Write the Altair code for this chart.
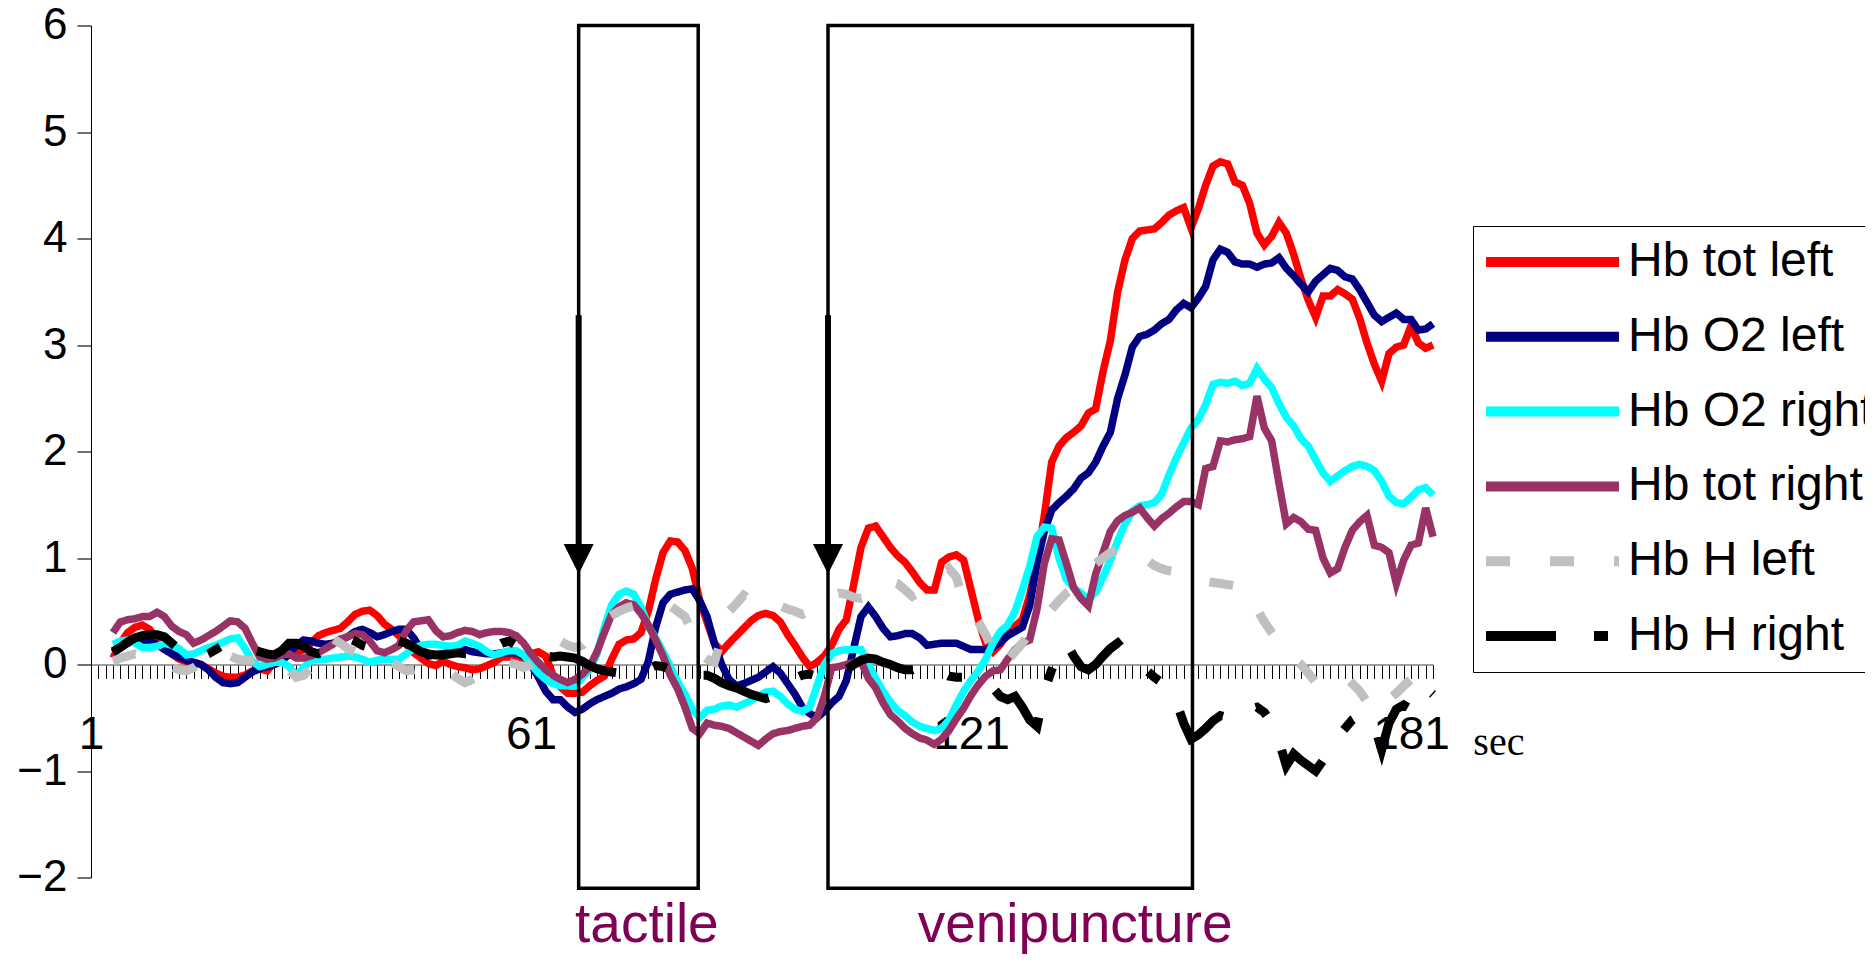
import altair as alt
import pandas as pd

# ---------------- data ----------------
seconds = list(range(4, 185))

series_names = ["Hb tot left", "Hb O2 left", "Hb O2 right", "Hb tot right", "Hb H left", "Hb H right"]
series_colors = ["#FF0000", "#000080", "#00FFFF", "#993366", "#C0C0C0", "#000000"]
series_dashes = [[1, 0], [1, 0], [1, 0], [1, 0], [24, 40], [70, 38, 14, 38]]

hb_tot_left = [
    0.06, 0.20, 0.30, 0.35, 0.37, 0.33, 0.24, 0.17, 0.10, 0.05,
    0.03, 0.02, 0.00, -0.04, -0.08, -0.11, -0.12, -0.12, -0.10, -0.06,
    -0.04, -0.06, 0.02, 0.06, 0.09, 0.11, 0.14, 0.20, 0.27, 0.30,
    0.32, 0.34, 0.40, 0.47, 0.50, 0.51, 0.46, 0.38, 0.33, 0.27,
    0.19, 0.11, 0.06, 0.01, -0.01, 0.03, 0.00, -0.02, -0.03, -0.05,
    -0.04, -0.01, 0.02, 0.07, 0.07, 0.06, 0.06, 0.10, 0.12, 0.08,
    -0.10, -0.21, -0.27, -0.27, -0.26, -0.20, -0.15, -0.11, 0.05, 0.19,
    0.23, 0.24, 0.30, 0.50, 0.80, 1.05, 1.16, 1.15, 1.07, 0.90,
    0.60, 0.40, 0.20, 0.12, 0.20, 0.27, 0.34, 0.41, 0.46, 0.48,
    0.46, 0.40, 0.28, 0.18, 0.07, -0.02, 0.02, 0.08, 0.18, 0.33,
    0.42, 0.75, 1.10, 1.28, 1.30, 1.20, 1.10, 1.02, 0.96, 0.87,
    0.77, 0.70, 0.70, 0.96, 1.01, 1.03, 0.98, 0.70, 0.42, 0.20,
    0.12, 0.19, 0.29, 0.36, 0.42, 0.65, 0.98, 1.40, 1.90, 2.05,
    2.13, 2.18, 2.24, 2.36, 2.40, 2.75, 3.04, 3.50, 3.80, 4.00,
    4.07, 4.08, 4.09, 4.15, 4.22, 4.26, 4.29, 4.10, 4.28, 4.50,
    4.68, 4.72, 4.70, 4.53, 4.50, 4.33, 4.05, 3.94, 4.02, 4.15,
    4.05, 3.85, 3.62, 3.42, 3.26, 3.46, 3.46, 3.52, 3.48, 3.43,
    3.25, 3.02, 2.82, 2.66, 2.92, 2.98, 3.00, 3.18, 3.02, 2.97,
    3.00,
]

hb_o2_left = [
    0.11, 0.16, 0.20, 0.22, 0.23, 0.22, 0.19, 0.14, 0.10, 0.07,
    0.04, 0.02, 0.00, -0.05, -0.12, -0.17, -0.18, -0.17, -0.12, -0.07,
    -0.04, -0.02, 0.00, 0.03, 0.10, 0.18, 0.23, 0.22, 0.20, 0.19,
    0.20, 0.23, 0.26, 0.31, 0.33, 0.30, 0.26, 0.28, 0.31, 0.33,
    0.33, 0.25, 0.14, 0.08, 0.09, 0.10, 0.12, 0.15, 0.14, 0.12,
    0.11, 0.10, 0.10, 0.11, 0.11, 0.11, 0.08, 0.00, -0.12, -0.25,
    -0.33, -0.33, -0.40, -0.45, -0.42, -0.37, -0.33, -0.30, -0.27, -0.23,
    -0.21, -0.18, -0.14, 0.03, 0.35, 0.58, 0.66, 0.68, 0.70, 0.71,
    0.60, 0.45, 0.20, 0.00, -0.14, -0.20, -0.18, -0.15, -0.12, -0.07,
    -0.02, -0.08, -0.18, -0.28, -0.40, -0.46, -0.50, -0.44, -0.36, -0.30,
    -0.15, 0.15, 0.45, 0.54, 0.45, 0.34, 0.26, 0.27, 0.29, 0.29,
    0.25, 0.18, 0.19, 0.20, 0.20, 0.20, 0.17, 0.14, 0.14, 0.14,
    0.16, 0.21, 0.27, 0.31, 0.35, 0.55, 0.95, 1.25, 1.45, 1.52,
    1.58, 1.65, 1.75, 1.80, 1.90, 2.05, 2.18, 2.50, 2.72, 2.98,
    3.08, 3.10, 3.14, 3.20, 3.24, 3.33, 3.39, 3.35, 3.44, 3.55,
    3.80, 3.90, 3.87, 3.78, 3.76, 3.76, 3.73, 3.76, 3.77, 3.82,
    3.72, 3.65, 3.57, 3.50, 3.60, 3.66, 3.72, 3.70, 3.64, 3.62,
    3.52, 3.40, 3.28, 3.22, 3.26, 3.30, 3.24, 3.24, 3.14, 3.15,
    3.20,
]

hb_o2_right = [
    0.19, 0.22, 0.23, 0.20, 0.16, 0.16, 0.17, 0.20, 0.18, 0.15,
    0.09, 0.10, 0.13, 0.16, 0.18, 0.21, 0.24, 0.25, 0.15, 0.03,
    -0.02, 0.00, 0.02, 0.02, -0.02, -0.10, -0.03, 0.04, 0.05, 0.05,
    0.06, 0.07, 0.08, 0.07, 0.05, 0.02, 0.04, 0.05, 0.05, 0.05,
    0.10, 0.15, 0.18, 0.19, 0.19, 0.18, 0.17, 0.18, 0.22, 0.20,
    0.17, 0.12, 0.09, 0.11, 0.13, 0.13, 0.09, 0.00, -0.08, -0.14,
    -0.18, -0.20, -0.20, -0.20, -0.12, -0.05, 0.10, 0.35, 0.56, 0.66,
    0.69, 0.66, 0.54, 0.36, 0.25, 0.12, -0.02, -0.16, -0.28, -0.42,
    -0.50, -0.43, -0.42, -0.39, -0.38, -0.40, -0.37, -0.34, -0.30, -0.26,
    -0.25, -0.30, -0.37, -0.42, -0.44, -0.40, -0.20, 0.00, 0.10, 0.13,
    0.14, 0.14, 0.14, 0.00, -0.13, -0.25, -0.35, -0.43, -0.48, -0.54,
    -0.58, -0.60, -0.62, -0.60, -0.52, -0.38, -0.25, -0.15, -0.06, 0.05,
    0.20, 0.31, 0.37, 0.50, 0.70, 0.92, 1.20, 1.29, 1.28, 1.00,
    0.80, 0.72, 0.67, 0.61, 0.68, 0.82, 0.98, 1.16, 1.32, 1.44,
    1.49, 1.50, 1.52, 1.60, 1.78, 1.94, 2.08, 2.22, 2.30, 2.44,
    2.63, 2.65, 2.64, 2.66, 2.62, 2.64, 2.78, 2.68, 2.60, 2.45,
    2.32, 2.24, 2.12, 2.05, 1.92, 1.80, 1.72, 1.77, 1.82, 1.86,
    1.88, 1.86, 1.82, 1.72, 1.58, 1.52, 1.51, 1.57, 1.64, 1.66,
    1.59,
]

hb_tot_right = [
    0.30, 0.40, 0.42, 0.43, 0.45, 0.45, 0.49, 0.45, 0.36, 0.31,
    0.28, 0.20, 0.23, 0.27, 0.31, 0.36, 0.41, 0.40, 0.34, 0.20,
    0.07, 0.05, 0.06, 0.09, 0.10, 0.06, 0.06, 0.08, 0.11, 0.15,
    0.19, 0.24, 0.26, 0.29, 0.28, 0.22, 0.13, 0.11, 0.14, 0.18,
    0.32, 0.40, 0.41, 0.42, 0.32, 0.26, 0.27, 0.30, 0.32, 0.31,
    0.28, 0.30, 0.31, 0.31, 0.30, 0.27, 0.20, 0.10, 0.02, -0.05,
    -0.10, -0.14, -0.17, -0.14, -0.09, -0.02, 0.12, 0.30, 0.47, 0.54,
    0.58, 0.56, 0.48, 0.37, 0.23, 0.08, -0.10, -0.23, -0.40, -0.60,
    -0.65, -0.55, -0.57, -0.58, -0.60, -0.64, -0.68, -0.72, -0.76, -0.70,
    -0.65, -0.63, -0.62, -0.60, -0.58, -0.57, -0.50, -0.30, -0.03, -0.02,
    0.00, 0.02, 0.03, -0.13, -0.22, -0.36, -0.47, -0.53, -0.60, -0.65,
    -0.69, -0.71, -0.75, -0.70, -0.62, -0.51, -0.41, -0.29, -0.19, -0.11,
    -0.06, -0.05, 0.05, 0.14, 0.20, 0.23, 0.52, 0.95, 1.18, 1.17,
    0.95, 0.72, 0.62, 0.55, 0.85, 1.05, 1.25, 1.35, 1.40, 1.43,
    1.47, 1.38, 1.30, 1.37, 1.42, 1.48, 1.53, 1.53, 1.50, 1.84,
    1.86, 2.10, 2.09, 2.11, 2.12, 2.14, 2.52, 2.22, 2.10, 1.70,
    1.32, 1.38, 1.34, 1.27, 1.26, 1.00, 0.86, 0.90, 1.10, 1.26,
    1.34, 1.40, 1.12, 1.10, 1.05, 0.76, 0.98, 1.12, 1.14, 1.47,
    1.20,
]

hb_h_left = [
    0.03, 0.06, 0.08, 0.10, 0.08, 0.05, 0.03, 0.01, -0.02, -0.05,
    -0.06, -0.03, 0.02, 0.07, 0.11, 0.10, 0.08, 0.05, 0.04, 0.04,
    0.05, 0.05, 0.04, 0.02, -0.05, -0.12, -0.10, -0.03, 0.06, 0.15,
    0.24, 0.20, 0.15, 0.12, 0.10, 0.08, 0.06, 0.04, 0.02, -0.02,
    -0.06, -0.05, -0.04, -0.03, -0.03, -0.04, -0.08, -0.13, -0.17, -0.14,
    -0.10, -0.06, -0.02, 0.00, 0.02, 0.00, -0.03, 0.00, 0.05, 0.12,
    0.22, 0.22, 0.18, 0.16, 0.18, 0.25, 0.33, 0.42, 0.46, 0.50,
    0.53, 0.55, 0.56, 0.57, 0.58, 0.58, 0.55, 0.50, 0.45, 0.30,
    0.10, 0.05, 0.02, 0.25, 0.50, 0.57, 0.65, 0.60, 0.55, 0.52,
    0.55, 0.55, 0.52, 0.50, 0.47, 0.50, 0.56, 0.60, 0.64, 0.67,
    0.66, 0.63, 0.62, 0.64, 0.70, 0.75, 0.78, 0.76, 0.70, 0.64,
    0.68, 0.73, 0.78, 0.84, 0.90, 0.82, 0.60, 0.50, 0.40, 0.28,
    0.12, -0.02, 0.04, 0.12, 0.20, 0.30, 0.40, 0.46, 0.52, 0.60,
    0.67, 0.72, 0.80, 0.88, 0.95, 1.00, 1.05, 1.08, 1.10, 1.11,
    1.05, 0.98, 0.93, 0.90, 0.88, 0.87, 0.86, 0.84, 0.82, 0.78,
    0.77, 0.76, 0.75, 0.74, 0.72, 0.62, 0.52, 0.40, 0.30, 0.20,
    0.12, 0.06, 0.00, -0.08, -0.17, -0.15, -0.12, -0.10, -0.11, -0.18,
    -0.25, -0.35, -0.45, -0.40, -0.33, -0.27, -0.20, -0.14, -0.11, -0.10,
    -0.18,
]

hb_h_right = [
    0.12, 0.16, 0.21, 0.25, 0.27, 0.28, 0.28, 0.26, 0.20, 0.14,
    0.08, 0.06, 0.07, 0.10, 0.14, 0.18, 0.18, 0.18, 0.16, 0.14,
    0.12, 0.10, 0.09, 0.13, 0.20, 0.20, 0.17, 0.12, 0.10, 0.13,
    0.18, 0.23, 0.25, 0.22, 0.18, 0.16, 0.12, 0.15, 0.20, 0.22,
    0.20, 0.16, 0.12, 0.10, 0.09, 0.09, 0.10, 0.11, 0.10, 0.10,
    0.10, 0.14, 0.16, 0.20, 0.22, 0.18, 0.14, 0.10, 0.08, 0.08,
    0.07, 0.08, 0.07, 0.06, 0.03, -0.01, -0.04, -0.06, -0.07, -0.08,
    -0.08, -0.07, -0.06, -0.04, -0.01, -0.02, -0.05, -0.07, -0.08, -0.09,
    -0.10, -0.10, -0.13, -0.17, -0.20, -0.22, -0.25, -0.28, -0.30, -0.32,
    -0.30, -0.22, -0.16, -0.13, -0.10, -0.09, -0.11, -0.13, -0.13, -0.10,
    -0.05, 0.00, 0.04, 0.06, 0.05, 0.02, 0.00, -0.03, -0.05, -0.05,
    -0.02, -0.02, -0.05, -0.08, -0.11, -0.12, -0.12, -0.12, -0.13, -0.15,
    -0.22, -0.30, -0.33, -0.30, -0.40, -0.52, -0.58, -0.25, -0.05, 0.12,
    0.20, 0.08, -0.02, -0.05, 0.00, 0.08, 0.15, 0.20, 0.12, 0.06,
    0.01, -0.06, -0.12, -0.17, -0.24, -0.35, -0.55, -0.70, -0.66, -0.60,
    -0.53, -0.48, -0.50, -0.53, -0.47, -0.42, -0.40, -0.45, -0.55, -0.72,
    -0.95, -0.84, -0.90, -0.95, -1.00, -0.90, -0.78, -0.68, -0.60, -0.52,
    -0.48, -0.50, -0.57, -0.80, -0.55, -0.42, -0.38, -0.42, -0.35, -0.22,
    -0.28,
]

x_tick_labels = [1, 61, 121, 181]
x_ticks = list(range(1, 185))
y_ticks = [-2, -1, 0, 1, 2, 3, 4, 5, 6]

stimulus_names = ["tactile", "venipuncture"]
stimulus_start = [67.5, 101.5]
stimulus_end = [83.8, 151.2]
stimulus_label_x = [76.8, 135.2]

# ---------------- tables ----------------
all_values = [hb_tot_left, hb_o2_left, hb_o2_right, hb_tot_right, hb_h_left, hb_h_right]
for vals in all_values:
    assert len(vals) == len(seconds), len(vals)

rows = []
for name, vals in zip(series_names, all_values):
    for s, v in zip(seconds, vals):
        rows.append({"sec": s, "value": v, "series": name})
df = pd.DataFrame(rows)
solid_df = df[df["series"].isin(series_names[:4])]
dashed_df = df[df["series"].isin(series_names[4:])]

boxes_df = pd.DataFrame({
    "name": stimulus_names,
    "start": stimulus_start,
    "end": stimulus_end,
    "top": [6.0, 6.0],
    "bottom": [-2.1, -2.1],
    "shaft_top": [3.28, 3.28],
    "shaft_bottom": [1.13, 1.13],
    "head": [0.99, 0.99],
    "label_x": stimulus_label_x,
    "label_y": [-2.61, -2.61],
})
unit_df = pd.DataFrame({"text": ["sec"], "x": [189.5], "y": [-0.85]})

# ---------------- scales / axes ----------------
FONT = "Liberation Sans"
xscale = alt.Scale(domain=[1, 184], nice=False, zero=False)
yscale = alt.Scale(domain=[-2, 6], nice=False, zero=False)

label_list = ",".join(str(v) for v in x_tick_labels)
xaxis = alt.Axis(
    values=x_ticks, format="d",
    labelExpr=f"indexof([{label_list}], datum.value) >= 0 ? datum.label : ''",
    offset=-213, domainColor="#808080", domainWidth=1.5,
    tickColor="#000000", tickWidth=1, tickSize=14,
    labelFont=FONT, labelFontSize=46, labelColor="black", labelPadding=34,
    labelOverlap=False, labelFlush=False, grid=False, title=None,
)
yaxis = alt.Axis(
    values=y_ticks, format="d",
    domainColor="#000000", domainWidth=1,
    tickColor="#404040", tickWidth=1.5, tickSize=14,
    labelFont=FONT, labelFontSize=44, labelColor="black", labelPadding=10,
    labelFlush=False, grid=False, title=None,
)

legend = alt.Legend(
    orient="none", legendX=1382, legendY=200.5, title=None,
    symbolType="stroke", symbolSize=17689, symbolStrokeWidth=10,
    clipHeight=56, rowPadding=18.8, padding=8,
    strokeColor="black", fillColor="white",
    labelFont=FONT, labelFontSize=48, labelColor="black",
    labelLimit=1000, labelOffset=4,
)

color_enc = alt.Color("series:N", scale=alt.Scale(domain=series_names, range=series_colors), legend=legend)
dash_enc = alt.StrokeDash("series:N", scale=alt.Scale(domain=series_names, range=series_dashes), legend=legend)

def X(field):
    return alt.X(field, type="quantitative", scale=xscale, axis=xaxis)

def Y(field):
    return alt.Y(field, type="quantitative", scale=yscale, axis=yaxis)

solid = alt.Chart(solid_df).mark_line(strokeWidth=7.5).encode(
    x=X("sec"), y=Y("value"), color=color_enc, strokeDash=dash_enc,
    detail="series:N",
)
dashed = alt.Chart(dashed_df).mark_line(strokeWidth=9).encode(
    x=X("sec"), y=Y("value"), color=color_enc, strokeDash=dash_enc,
    detail="series:N",
)

boxes = alt.Chart(boxes_df).mark_rect(fillOpacity=0, stroke="black", strokeWidth=3.5).encode(
    x=X("start"), x2="end", y=Y("top"), y2="bottom",
)
shafts = alt.Chart(boxes_df).mark_rule(color="black", strokeWidth=6).encode(
    x=X("start"), y=Y("shaft_top"), y2="shaft_bottom",
)
heads = alt.Chart(boxes_df).mark_point(
    shape="M-1,-1L1,-1L0,1Z", size=900, filled=True, color="black", opacity=1, strokeWidth=0,
).encode(x=X("start"), y=Y("head"))

stim_text = alt.Chart(boxes_df).mark_text(
    font=FONT, fontSize=55, color="#800055", align="center", baseline="alphabetic",
).encode(x=X("label_x"), y=Y("label_y"), text="name:N")

unit_text = alt.Chart(unit_df).mark_text(
    font="Liberation Serif", fontSize=40, color="black", align="left", baseline="alphabetic",
).encode(x=X("x"), y=Y("y"), text="text:N")

chart = alt.layer(solid, dashed, boxes, shafts, heads, stim_text, unit_text).properties(
    width=1342, height=852,
    autosize=alt.AutoSizeParams(type="none"),
    padding={"left": 83, "top": 17.5, "right": 432, "bottom": 78.5},
    background="white",
).configure_view(stroke=None)

chart.save("out.html", embed_options={"renderer": "svg", "actions": False})
